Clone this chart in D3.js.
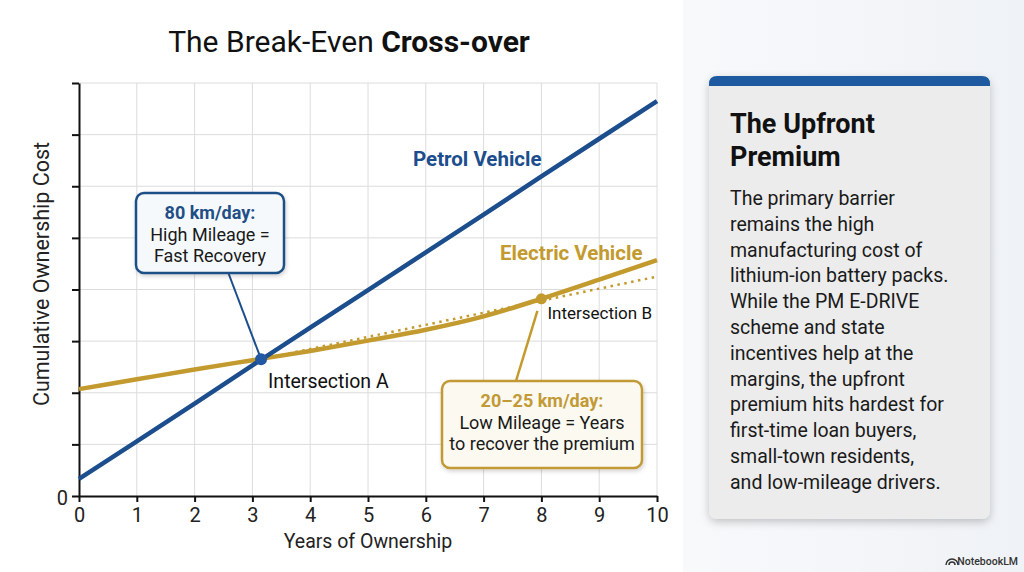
<!DOCTYPE html>
<html><head><meta charset="utf-8">
<script src="https://cdn.jsdelivr.net/npm/d3@7/dist/d3.min.js"></script>
<style>body{margin:0;background:#fff;}svg{display:block;font-family:Roboto,"Noto Sans",sans-serif;}</style>
</head><body><svg id="c" width="1024" height="572"></svg>
<script>
const years = [0,1,2,3,4,5,6,7,8,9,10];
const petrolCost = [0.33,1.06,1.79,2.53,3.26,3.99,4.72,5.45,6.19,6.92,7.65];
const evCost = [2.07,2.26,2.45,2.63,2.81,3.01,3.22,3.48,3.82,4.19,4.57];
const evTrendX = [3.15,10];
const evTrendY = [2.65,4.25];
const intersections = [{name:"Intersection A",x:3.15,y:2.65},{name:"Intersection B",x:8,y:3.82}];
const yTicks = [0,1,2,3,4,5,6,7,8];
const cardBody = ["The primary barrier","remains the high","manufacturing cost of","lithium-ion battery packs.","While the PM E-DRIVE","scheme and state","incentives help at the","margins, the upfront","premium hits hardest for","first-time loan buyers,","small-town residents,","and low-mileage drivers."];

const BLUE="#1c4d8c", GOLD="#c39a2e";
const svg=d3.select("#c");
const defs=svg.append("defs");
const g1=defs.append("linearGradient").attr("id","bg").attr("x1",0).attr("x2",1).attr("y1",0).attr("y2",0);
g1.append("stop").attr("offset","0").attr("stop-color","#f8f9fb");
g1.append("stop").attr("offset","1").attr("stop-color","#eff2f6");
const f=defs.append("filter").attr("id","sh").attr("x","-20%").attr("y","-20%").attr("width","140%").attr("height","140%");
f.append("feDropShadow").attr("dx",0).attr("dy",3).attr("stdDeviation",4).attr("flood-color","#000").attr("flood-opacity",0.22);
const f2=defs.append("filter").attr("id","sh2").attr("x","-20%").attr("y","-20%").attr("width","140%").attr("height","140%");
f2.append("feDropShadow").attr("dx",1).attr("dy",2).attr("stdDeviation",2).attr("flood-color","#000").attr("flood-opacity",0.18);

svg.append("rect").attr("x",683).attr("y",0).attr("width",341).attr("height",572).attr("fill","url(#bg)");

const x=d3.scaleLinear().domain([0,10]).range([79,657]);
const y=d3.scaleLinear().domain([0,8]).range([496,83]);

const grid=svg.append("g");
grid.selectAll("line.v").data(years.slice(1)).join("line").attr("x1",d=>x(d)).attr("x2",d=>x(d)).attr("y1",y(0)).attr("y2",y(8)).attr("stroke","#dcdcdc").attr("stroke-width",1);
grid.selectAll("line.h").data(yTicks.slice(1)).join("line").attr("x1",x(0)).attr("x2",x(10)).attr("y1",d=>y(d)).attr("y2",d=>y(d)).attr("stroke","#dcdcdc").attr("stroke-width",1);

const xa=svg.append("g").attr("transform",`translate(0,${y(0)})`).call(d3.axisBottom(x).tickValues(years).tickSize(6).tickSizeOuter(0).tickFormat(d3.format("d")));
const ya=svg.append("g").attr("transform",`translate(${x(0)},0)`).call(d3.axisLeft(y).tickValues(yTicks).tickSize(7).tickSizeOuter(0).tickFormat(d=>d===0?"0":""));
[xa,ya].forEach(a=>{a.select(".domain").attr("stroke","#111").attr("stroke-width",2);a.selectAll(".tick line").attr("stroke","#111").attr("stroke-width",2);a.selectAll("text").attr("font-family","Roboto").attr("font-size",20).attr("fill","#222");});
xa.selectAll("text").attr("dy","0.85em");
ya.selectAll("text").attr("dx","-1px").attr("dy","0.4em");

const line=d3.line().x(d=>x(d[0])).y(d=>y(d[1]));
svg.append("path").datum(evTrendX.map((v,i)=>[v,evTrendY[i]])).attr("d",line).attr("fill","none").attr("stroke",GOLD).attr("stroke-width",2.5).attr("stroke-dasharray","2.5,4.5");
svg.append("path").datum(years.map((v,i)=>[v,evCost[i]])).attr("d",line.curve(d3.curveMonotoneX)).attr("fill","none").attr("stroke",GOLD).attr("stroke-width",4.5);
svg.append("path").datum(years.map((v,i)=>[v,petrolCost[i]])).attr("d",d3.line().x(d=>x(d[0])).y(d=>y(d[1]))).attr("fill","none").attr("stroke",BLUE).attr("stroke-width",4.5);

const A=intersections[0],B=intersections[1];
svg.append("line").attr("x1",228).attr("y1",272).attr("x2",x(A.x)).attr("y2",y(A.y)).attr("stroke",BLUE).attr("stroke-width",2);
svg.append("line").attr("x1",x(B.x)-4).attr("y1",y(B.y)+12).attr("x2",516).attr("y2",381).attr("stroke",GOLD).attr("stroke-width",2.5);

svg.append("circle").attr("cx",x(A.x)).attr("cy",y(A.y)).attr("r",6).attr("fill","#2158a3");
svg.append("circle").attr("cx",x(B.x)).attr("cy",y(B.y)).attr("r",5.5).attr("fill",GOLD);
svg.append("text").attr("x",x(A.x)+7).attr("y",y(A.y)+29).attr("font-size",19.5).attr("fill","#111").text(A.name);
svg.append("text").attr("x",x(B.x)+6).attr("y",y(B.y)+20).attr("font-size",17).attr("fill","#111").text(B.name);

svg.append("text").attr("x",413).attr("y",166).attr("font-size",20.5).attr("font-weight",700).attr("fill",BLUE).text("Petrol Vehicle");
svg.append("text").attr("x",500).attr("y",260).attr("font-size",20.5).attr("font-weight",700).attr("fill",GOLD).text("Electric Vehicle");

function box(bx,by,bw,bh,stroke,fill,lines,cx){
  svg.append("rect").attr("x",bx).attr("y",by).attr("width",bw).attr("height",bh).attr("rx",8).attr("fill",fill).attr("stroke",stroke).attr("stroke-width",2.5).attr("filter","url(#sh2)");
  lines.forEach((l,i)=>{
    svg.append("text").attr("x",cx).attr("y",by+26+i*21.5).attr("text-anchor","middle").attr("font-size",18).attr("font-weight",i===0?700:400).attr("fill",i===0?stroke:"#1a1a1a").text(l);
  });
}
box(136,193,148,80,"#1f4f86","#f6f9fc",["80 km/day:","High Mileage =","Fast Recovery"],210);
box(442,381,200,87,"#c29a36","#fbf9f0",["20–25 km/day:","Low Mileage = Years","to recover the premium"],542);

svg.append("text").attr("x",368).attr("y",548).attr("text-anchor","middle").attr("font-size",19.5).attr("fill","#222").text("Years of Ownership");
svg.append("text").attr("transform","translate(49,274) rotate(-90)").attr("text-anchor","middle").attr("font-size",21.5).attr("fill","#222").text("Cumulative Ownership Cost");

const t=svg.append("text").attr("x",349).attr("y",52).attr("text-anchor","middle").attr("font-size",30).attr("fill","#111");
t.append("tspan").attr("font-weight",400).text("The Break-Even ");
t.append("tspan").attr("font-weight",700).text("Cross-over");

const card=svg.append("g");
card.append("rect").attr("x",709).attr("y",76).attr("width",281).attr("height",443).attr("rx",8).attr("fill","#ececec").attr("filter","url(#sh)");
card.append("path").attr("d","M709,92 L709,84 Q709,76 717,76 L982,76 Q990,76 990,84 L990,92 Z").attr("fill","#1e5aa0");
card.append("rect").attr("x",709).attr("y",86).attr("width",281).attr("height",10).attr("fill","#ececec");
["The Upfront","Premium"].forEach((l,i)=>card.append("text").attr("x",730).attr("y",133+i*33).attr("font-size",27).attr("font-weight",700).attr("fill","#111").text(l));
cardBody.forEach((l,i)=>card.append("text").attr("x",730).attr("y",205+i*25.8).attr("font-size",19.5).attr("fill","#1a1a1a").text(l));

svg.append("text").attr("x",1018).attr("y",565).attr("text-anchor","end").attr("font-size",10.5).attr("font-weight",500).attr("fill","#333").text("NotebookLM");
svg.append("path").attr("d","M946,565 a6,6 0 0 1 12,0 M949,565 a3,3 0 0 1 6,0").attr("fill","none").attr("stroke","#333").attr("stroke-width",1.5);
</script></body></html>
